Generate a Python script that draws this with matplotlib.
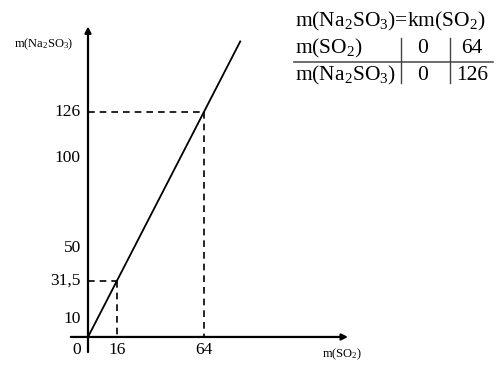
import matplotlib.pyplot as plt

plt.rcParams['font.family'] = ['Liberation Serif', 'DejaVu Serif']
plt.rcParams['mathtext.default'] = 'regular'

# data
line_x = [0, 84]
line_y = [0, 165.5]
marked_x = [16, 64]
marked_y = [31.5, 126]
ytick_vals = [10, 31.5, 50, 100, 126]
ytick_labels = ['10', '31,5', '50', '100', '126']
xtick_vals = [16, 64]
xtick_labels = ['16', '64']
table_rows = [('m(SO$_2$)', '0', '64'), ('m(Na$_2$SO$_3$)', '0', '126')]

fig = plt.figure(figsize=(4.97, 3.65), dpi=100)
ax = fig.add_axes([0, 0, 1, 1])
ax.set_xlim(-48.55, 225.66)
ax.set_ylim(-15.7, 188.7)
ax.axis('off')

# axes with arrows
ax.annotate('', xy=(145, 0), xytext=(-11, 0),
            arrowprops=dict(arrowstyle='-|>', lw=1.6, color='black', mutation_scale=9))
ax.annotate('', xy=(0, 175.5), xytext=(0, -10),
            arrowprops=dict(arrowstyle='-|>', lw=1.6, color='black', mutation_scale=9))

ax.plot(line_x, line_y, color='black', lw=1.3)

for x, y in zip(marked_x, marked_y):
    ax.plot([0, x], [y, y], color='black', lw=1.2, ls=(0, (4, 3)))
    ax.plot([x, x], [y, 0], color='black', lw=1.2, ls=(0, (4, 3)))

for v, lab in zip(ytick_vals, ytick_labels):
    ax.text(-4, v, lab, ha='right', va='center', fontsize=12.5)
ax.text(-6.5, -7.5, '0', ha='center', va='center', fontsize=12.5)
for v, lab in zip(xtick_vals, xtick_labels):
    ax.text(v, -7.5, lab, ha='center', va='center', fontsize=12.5)

ax.text(-24.5, 164, 'm(Na$_2$SO$_3$)', ha='center', va='center', fontsize=9)
ax.text(140, -9.5, 'm(SO$_2$)', ha='center', va='center', fontsize=9)

# table in the upper right
fs = 15.5
ax.text(114, 176.5, 'm(Na$_2$SO$_3$)=km(SO$_2$)', ha='left', va='center', fontsize=fs)
row_y = [161.5, 146.5]
for (name, a, b), y in zip(table_rows, row_y):
    ax.text(114, y, name, ha='left', va='center', fontsize=fs)
    ax.text(184.5, y, a, ha='center', va='center', fontsize=fs)
    ax.text(212, y, b, ha='center', va='center', fontsize=fs)
ax.plot([113.5, 223.5], [154, 154], color='#555555', lw=1.2)
ax.plot([172.5, 172.5], [167.5, 142], color='#444444', lw=1.0)
ax.plot([200, 200], [167.5, 142], color='#444444', lw=1.0)

fig.savefig('out.png', dpi=100)
